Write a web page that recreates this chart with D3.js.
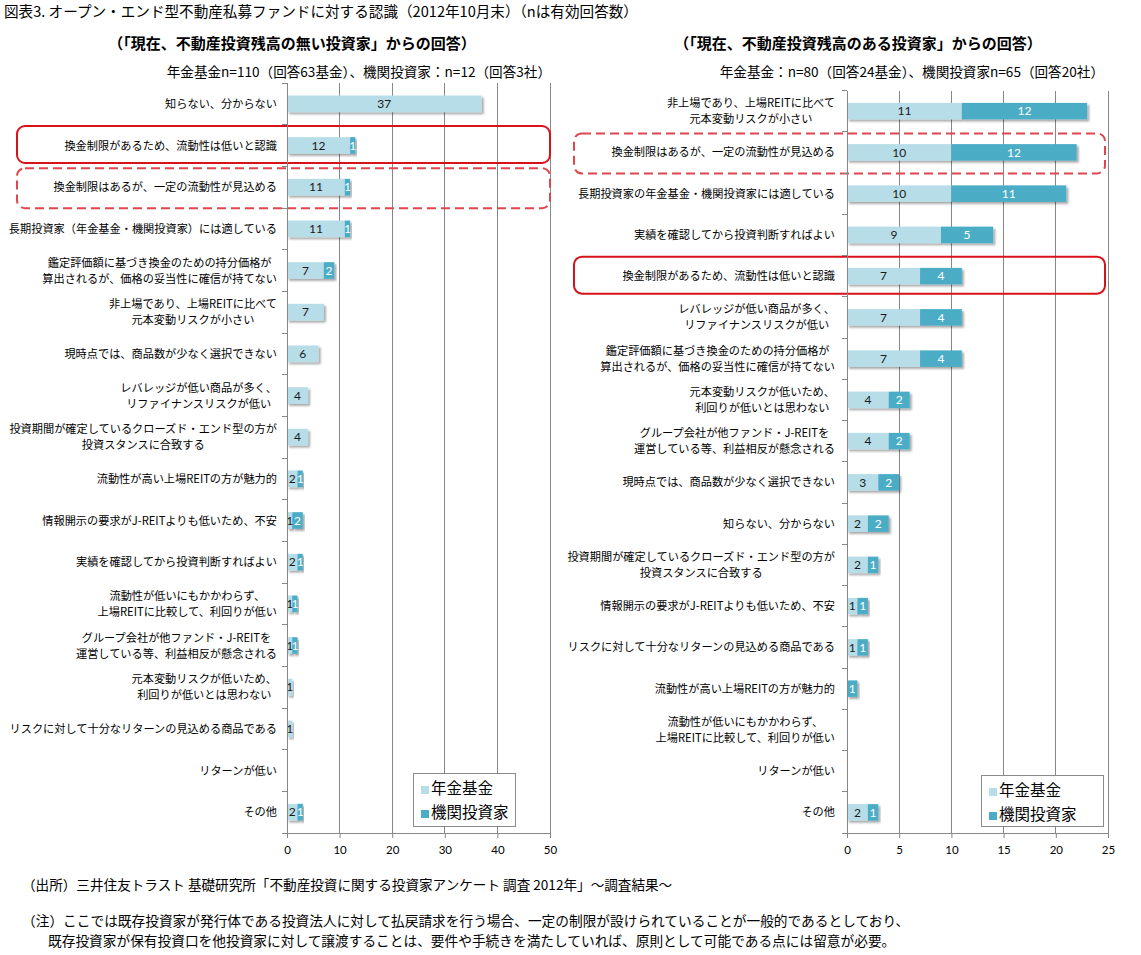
<!DOCTYPE html>
<html><head><meta charset="utf-8">
<script src="https://cdn.jsdelivr.net/npm/d3@7"></script>
<style>
html,body{margin:0;padding:0;background:#fff;}
svg{display:block;}
text{font-family:"Noto Sans CJK JP","Noto Sans",sans-serif;fill:#000;}
.num{font-family:"Lato","Liberation Sans",sans-serif;}
</style></head>
<body>
<svg id="chart" width="1141" height="955"></svg>
<script>
// ---------- data ----------
const seriesNames = ["年金基金", "機関投資家"];

const leftCategories = [
  "知らない、分からない",
  "換金制限があるため、流動性は低いと認識",
  "換金制限はあるが、一定の流動性が見込める",
  "長期投資家（年金基金・機関投資家）には適している",
  "鑑定評価額に基づき換金のための持分価格が|算出されるが、価格の妥当性に確信が持てない",
  "非上場であり、上場REITに比べて|元本変動リスクが小さい",
  "現時点では、商品数が少なく選択できない",
  "レバレッジが低い商品が多く、|リファイナンスリスクが低い",
  "投資期間が確定しているクローズド・エンド型の方が|投資スタンスに合致する",
  "流動性が高い上場REITの方が魅力的",
  "情報開示の要求がJ-REITよりも低いため、不安",
  "実績を確認してから投資判断すればよい",
  "流動性が低いにもかかわらず、|上場REITに比較して、利回りが低い",
  "グループ会社が他ファンド・J-REITを|運営している等、利益相反が懸念される",
  "元本変動リスクが低いため、|利回りが低いとは思わない",
  "リスクに対して十分なリターンの見込める商品である",
  "リターンが低い",
  "その他"
];
const leftPension = [37, 12, 11, 11, 7, 7, 6, 4, 4, 2, 1, 2, 1, 1, 1, 1, 0, 2];
const leftInstitution = [0, 1, 1, 1, 2, 0, 0, 0, 0, 1, 2, 1, 1, 1, 0, 0, 0, 1];
const leftTicks = [0, 10, 20, 30, 40, 50];

const rightCategories = [
  "非上場であり、上場REITに比べて|元本変動リスクが小さい",
  "換金制限はあるが、一定の流動性が見込める",
  "長期投資家の年金基金・機関投資家には適している",
  "実績を確認してから投資判断すればよい",
  "換金制限があるため、流動性は低いと認識",
  "レバレッジが低い商品が多く、|リファイナンスリスクが低い",
  "鑑定評価額に基づき換金のための持分価格が|算出されるが、価格の妥当性に確信が持てない",
  "元本変動リスクが低いため、|利回りが低いとは思わない",
  "グループ会社が他ファンド・J-REITを|運営している等、利益相反が懸念される",
  "現時点では、商品数が少なく選択できない",
  "知らない、分からない",
  "投資期間が確定しているクローズド・エンド型の方が|投資スタンスに合致する",
  "情報開示の要求がJ-REITよりも低いため、不安",
  "リスクに対して十分なリターンの見込める商品である",
  "流動性が高い上場REITの方が魅力的",
  "流動性が低いにもかかわらず、|上場REITに比較して、利回りが低い",
  "リターンが低い",
  "その他"
];
const rightPension = [11, 10, 10, 9, 7, 7, 7, 4, 4, 3, 2, 2, 1, 1, 0, 0, 0, 2];
const rightInstitution = [12, 12, 11, 5, 4, 4, 4, 2, 2, 2, 2, 1, 1, 1, 1, 0, 0, 1];
const rightTicks = [0, 5, 10, 15, 20, 25];

const titleText = "図表3. オープン・エンド型不動産私募ファンドに対する認識（2012年10月末）（nは有効回答数）";
const leftSubtitle = "（「現在、不動産投資残高の無い投資家」からの回答）";
const rightSubtitle = "（「現在、不動産投資残高のある投資家」からの回答）";
const leftNote = "年金基金n=110（回答63基金）、機関投資家：n=12（回答3社）";
const rightNote = "年金基金：n=80（回答24基金）、機関投資家n=65（回答20社）";
const sourceText = "（出所）三井住友トラスト 基礎研究所「不動産投資に関する投資家アンケート 調査 2012年」～調査結果～";
const noteLine1 = "（注）ここでは既存投資家が発行体である投資法人に対して払戻請求を行う場合、一定の制限が設けられていることが一般的であるとしており、";
const noteLine2 = "既存投資家が保有投資口を他投資家に対して譲渡することは、要件や手続きを満たしていれば、原則として可能である点には留意が必要。";

// highlighted categories: [category, style]
const leftHighlights = [["換金制限があるため、流動性は低いと認識", "solid"], ["換金制限はあるが、一定の流動性が見込める", "dashed"]];
const rightHighlights = [["換金制限はあるが、一定の流動性が見込める", "dashed"], ["換金制限があるため、流動性は低いと認識", "solid"]];

// ---------- drawing ----------
const colors = ["#b7dde8", "#4bacc6"];
const labelColors = ["#1a1a1a", "#ffffff"];
const gridColor = "#878787";
const svg = d3.select("#chart");

const defs = svg.append("defs");
const f = defs.append("filter").attr("id", "shadow").attr("x", "-10%").attr("y", "-30%").attr("width", "130%").attr("height", "180%");
f.append("feDropShadow").attr("dx", 2).attr("dy", 2).attr("stdDeviation", 1.3).attr("flood-color", "#000").attr("flood-opacity", 0.35);

svg.append("text").attr("x", 4).attr("y", 17).attr("font-size", 14.6).text(titleText);

function drawPanel(cfg) {
  const g = svg.append("g");
  const rows = cfg.categories.map((c, i) => ({cat: c, s0: cfg.pension[i], s1: cfg.inst[i]}));
  const stacked = d3.stack().keys(["s0", "s1"])(rows);
  const x = d3.scaleLinear().domain([0, d3.max(cfg.ticks)]).range([cfg.x0, cfg.x1]);
  const y = d3.scaleBand().domain(cfg.categories).range([cfg.top, cfg.bottom]).paddingInner(0.6).paddingOuter(0.3);
  const step = y.step();
  const bandTop = c => y(c) - y.paddingOuter() * step;
  const center = c => y(c) + y.bandwidth() / 2;

  // gridlines
  g.append("g").selectAll("line").data(cfg.ticks.filter(t => t > 0)).join("line")
    .attr("x1", d => x(d)).attr("x2", d => x(d))
    .attr("y1", cfg.top).attr("y2", cfg.bottom)
    .attr("stroke", gridColor).attr("stroke-width", 1).attr("shape-rendering", "crispEdges");

  // highlight boxes (behind bars)
  cfg.highlights.forEach(([cat, style]) => {
    const h = style === "solid" ? 37 : 40;
    g.append("rect")
      .attr("x", cfg.boxLeft).attr("y", center(cat) - h / 2 + (style === "solid" ? -1 : 1))
      .attr("width", x.range()[1] - cfg.boxRightInset - cfg.boxLeft).attr("height", h)
      .attr("rx", 8).attr("ry", 8)
      .attr("fill", "none")
      .attr("stroke", style === "solid" ? "#d7121a" : "#e0474c")
      .attr("stroke-width", 2)
      .attr("stroke-dasharray", style === "solid" ? null : "9,5");
  });

  // bars
  const layers = g.append("g").selectAll("g").data(stacked).join("g")
    .attr("fill", (d, i) => colors[i]);
  layers.selectAll("rect").data(d => d.filter(p => p[1] - p[0] > 0)).join("rect")
    .attr("x", d => x(d[0])).attr("width", d => x(d[1]) - x(d[0]))
    .attr("y", d => y(d.data.cat)).attr("height", y.bandwidth())
    .attr("filter", "url(#shadow)");

  // data labels
  stacked.forEach((layer, i) => {
    g.append("g").selectAll("text").data(layer.filter(p => p[1] - p[0] > 0)).join("text")
      .attr("class", "num")
      .attr("x", d => (x(d[0]) + x(d[1])) / 2)
      .attr("y", d => center(d.data.cat))
      .attr("dy", "0.36em")
      .attr("text-anchor", "middle")
      .attr("font-size", 12)
      .style("fill", labelColors[i])
      .text(d => d[1] - d[0]);
  });

  // left axis line and category ticks
  g.append("line").attr("x1", cfg.x0).attr("x2", cfg.x0).attr("y1", cfg.top).attr("y2", cfg.bottom)
    .attr("stroke", gridColor).attr("shape-rendering", "crispEdges");
  const bounds = cfg.categories.map(c => bandTop(c));
  g.append("g").selectAll("line").data(bounds).join("line")
    .attr("x1", cfg.x0 - 5).attr("x2", cfg.x0).attr("y1", d => d).attr("y2", d => d)
    .attr("stroke", gridColor).attr("shape-rendering", "crispEdges");

  // bottom axis
  const ax = g.append("g").attr("transform", `translate(0,${cfg.bottom})`)
    .call(d3.axisBottom(x).tickValues(cfg.ticks).tickSize(5).tickSizeOuter(0));
  ax.select(".domain").attr("stroke", gridColor).attr("shape-rendering", "crispEdges");
  ax.selectAll(".tick line").attr("stroke", gridColor);
  ax.selectAll(".tick text").attr("class", "num").attr("font-size", 11.5).style("fill", "#000")
    .attr("font-family", "Lato, 'Liberation Sans', sans-serif").attr("y", 13);
  g.append("line").attr("x1", cfg.x0 - 5).attr("x2", cfg.x0).attr("y1", cfg.bottom).attr("y2", cfg.bottom)
    .attr("stroke", gridColor).attr("shape-rendering", "crispEdges");

  // category labels (wrapped lines centred, block right-aligned)
  const labelRight = cfg.x0 - cfg.labelGap;
  cfg.categories.forEach(cat => {
    const lines = cat.split("|");
    const cy = center(cat);
    const txts = lines.map((ln, k) => g.append("text")
      .attr("font-size", 11.2)
      .attr("y", cy + (k - (lines.length - 1) / 2) * 16)
      .attr("dy", "0.36em")
      .text(ln));
    const maxW = d3.max(txts, t => t.node().getComputedTextLength());
    txts.forEach(t => t.attr("text-anchor", "middle").attr("x", labelRight - maxW / 2));
  });

  // headings
  svg.append("text").attr("x", cfg.subX).attr("y", 49).attr("text-anchor", "middle")
    .attr("font-size", 15).attr("font-weight", "bold").text(cfg.subtitle);
  svg.append("text").attr("x", cfg.noteRight).attr("y", 77).attr("text-anchor", "end")
    .attr("font-size", 13.6).text(cfg.note);

  // legend
  const lg = g.append("g").attr("transform", `translate(${cfg.legend[0]},${cfg.legend[1]})`);
  lg.append("rect").attr("width", cfg.legend[2]).attr("height", cfg.legend[3])
    .attr("fill", "#fff").attr("stroke", "#8a8a8a").attr("stroke-width", 1).attr("shape-rendering", "crispEdges");
  seriesNames.forEach((name, i) => {
    const yy = 13 + i * 24;
    lg.append("rect").attr("x", 8).attr("y", yy).attr("width", 8).attr("height", 8).attr("fill", colors[i]);
    lg.append("text").attr("x", 18).attr("y", yy + 8).attr("font-size", 15.5).text(name);
  });
}

drawPanel({
  categories: leftCategories, pension: leftPension, inst: leftInstitution, ticks: leftTicks,
  x0: 287, x1: 550, top: 83, bottom: 833, labelGap: 10,
  highlights: leftHighlights, boxLeft: 17, boxRightInset: 0,
  subtitle: leftSubtitle, subX: 292, note: leftNote, noteRight: 551,
  legend: [413, 773, 102, 53]
});
drawPanel({
  categories: rightCategories, pension: rightPension, inst: rightInstitution, ticks: rightTicks,
  x0: 847, x1: 1108, top: 90.5, bottom: 833, labelGap: 12,
  highlights: rightHighlights, boxLeft: 574, boxRightInset: 3,
  subtitle: rightSubtitle, subX: 858, note: rightNote, noteRight: 1104,
  legend: [981, 775, 122, 51]
});

// footer
svg.append("text").attr("x", 22).attr("y", 890).attr("font-size", 13.6).text(sourceText);
svg.append("text").attr("x", 22).attr("y", 926).attr("font-size", 13.7).text(noteLine1);
svg.append("text").attr("x", 48).attr("y", 946).attr("font-size", 13.7).text(noteLine2);
</script>
</body></html>
